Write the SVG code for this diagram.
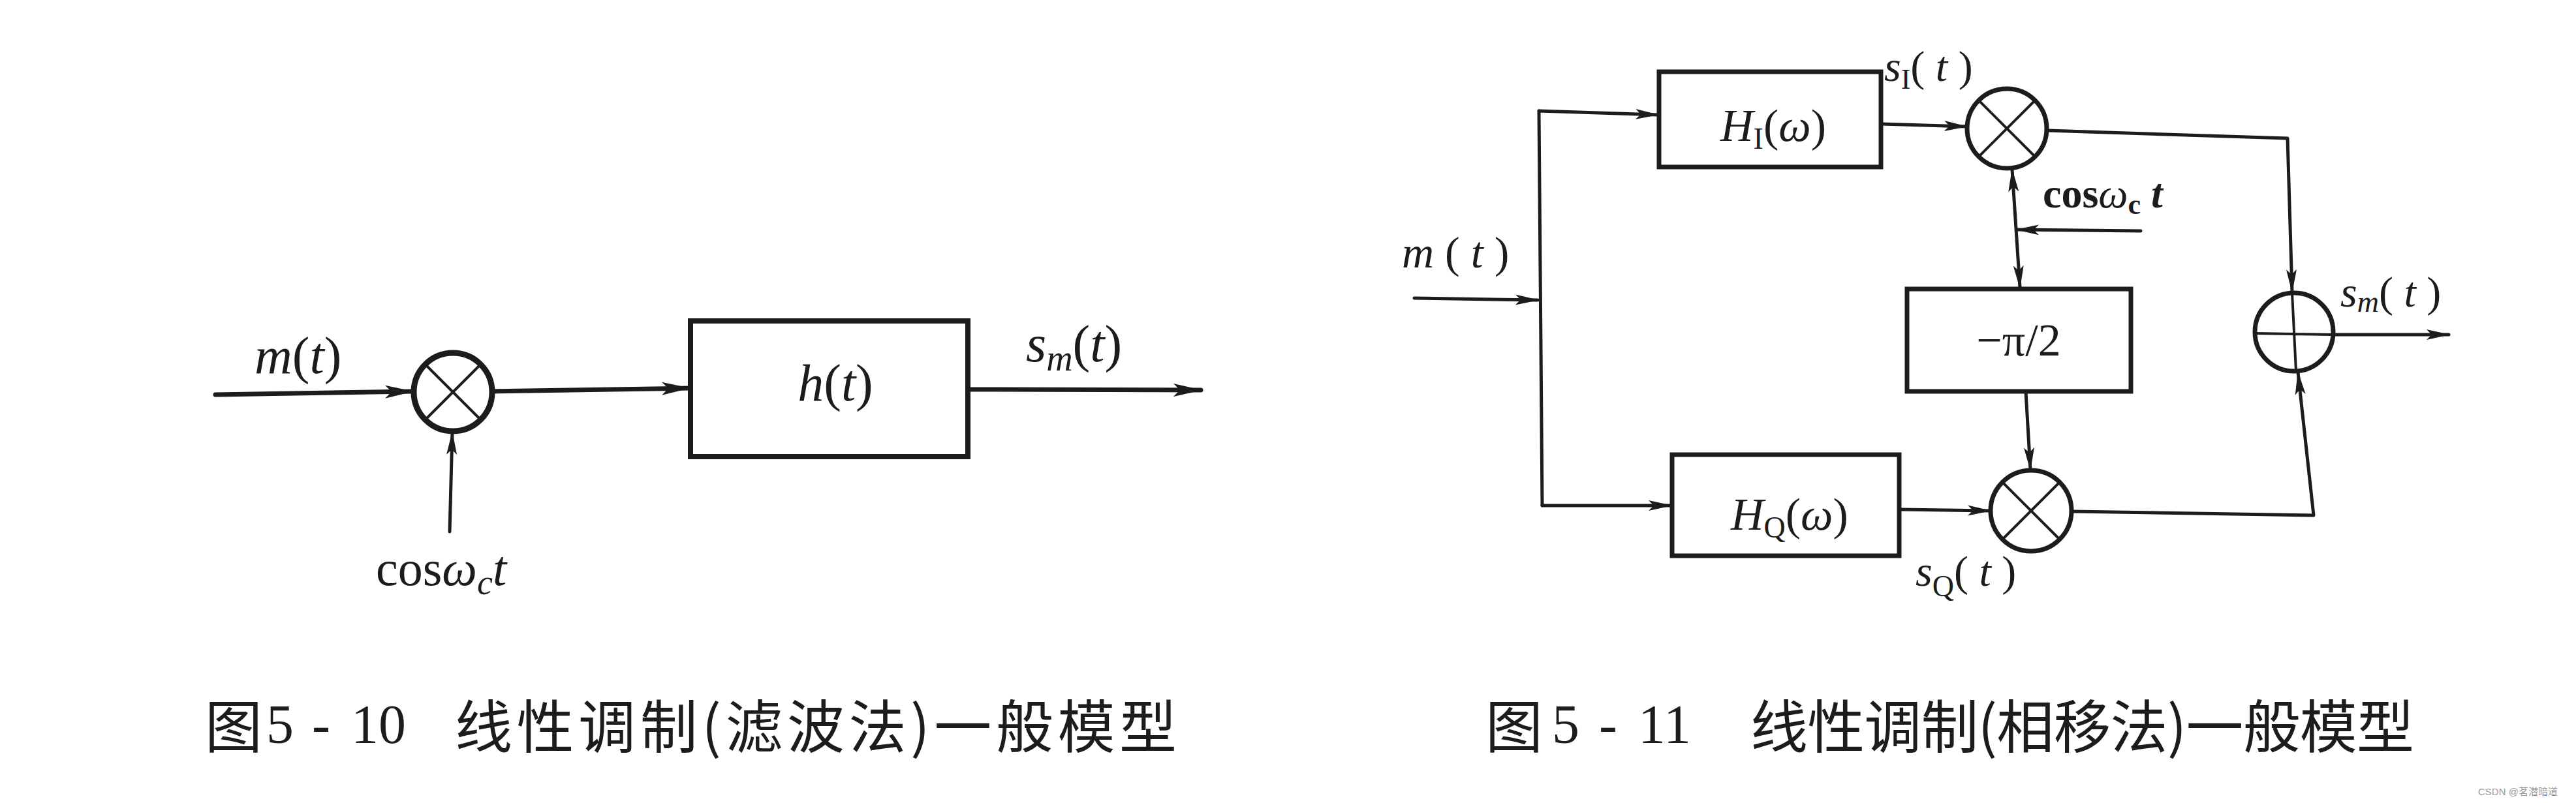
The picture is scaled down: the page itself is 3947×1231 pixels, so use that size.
<svg xmlns="http://www.w3.org/2000/svg" width="3947" height="1231" viewBox="0 0 3947 1231">
<defs>
<style>
.ln{fill:none;stroke:#1c1c1c;stroke-linecap:round;stroke-linejoin:round}
.thick{stroke-width:7}
.thin{stroke-width:5}
.box{fill:none;stroke:#1c1c1c;stroke-width:8}
.box2{fill:none;stroke:#1c1c1c;stroke-width:7}
.txt{font-family:"Liberation Serif","DejaVu Serif",serif;fill:#1c1c1c}
.it{font-style:italic}
.cap{font-family:"Noto Sans CJK SC","Noto Sans CJK TC",sans-serif;fill:#1c1c1c;font-size:88px}
.num{font-family:"Liberation Serif",serif;fill:#1c1c1c;font-size:84px}
</style>
<marker id="ah" markerUnits="userSpaceOnUse" markerWidth="44" markerHeight="22" refX="42" refY="11" orient="auto-start-reverse" viewBox="0 0 44 22">
<path d="M0,1 L44,11 L0,21 L10,11 z" fill="#1c1c1c"/>
</marker>
<marker id="as" markerUnits="userSpaceOnUse" markerWidth="36" markerHeight="18" refX="34" refY="9" orient="auto-start-reverse" viewBox="0 0 36 18">
<path d="M0,1 L36,9 L0,17 L8,9 z" fill="#1c1c1c"/>
</marker>
</defs>
<rect x="0" y="0" width="3947" height="1231" fill="#ffffff"/>

<!-- Connectors -->
<g id="connectors">
<!-- left diagram -->
<path class="ln thick" d="M330,605 L632,600" marker-end="url(#ah)"/>
<path class="ln thick" d="M754,600 L1056,595" marker-end="url(#ah)"/>
<path class="ln thick" d="M1483,597 L1840,598" marker-end="url(#ah)"/>
<path class="ln thin" d="M689,815 L693,663" marker-end="url(#as)"/>
<!-- right diagram -->
<path class="ln thin" d="M2167,457 L2356,460" marker-end="url(#as)"/>
<path class="ln thin" d="M2358,170 L2363,775"/>
<path class="ln thin" d="M2358,170 L2540,176" marker-end="url(#as)"/>
<path class="ln thin" d="M2363,775 L2560,775" marker-end="url(#as)"/>
<path class="ln thin" d="M2883,190 L3013,194" marker-end="url(#as)"/>
<path class="ln thin" d="M3137,200 L3505,212 L3512,447" marker-end="url(#as)"/>
<path class="ln thin" d="M3174,784 L3545,790 L3521,571" marker-end="url(#as)"/>
<path class="ln thin" d="M2912,781 L3049,783" marker-end="url(#as)"/>
<path class="ln thin" d="M3083,260 L3095,441" marker-start="url(#as)" marker-end="url(#as)"/>
<path class="ln thin" d="M3280,354 L3090,352" marker-end="url(#as)"/>
<path class="ln thin" d="M3104,601 L3111,720" marker-end="url(#as)"/>
<path class="ln thin" d="M3575,513 L3752,513" marker-end="url(#as)"/>
</g>

<!-- Left diagram nodes -->
<g id="mult1">
<circle cx="694" cy="601" r="60" fill="none" stroke="#1c1c1c" stroke-width="9"/>
<path class="ln" stroke-width="4" d="M652,559 L736,643 M736,559 L652,643"/>
</g>
<g id="filter-h">
<rect class="box" x="1058" y="492" width="425" height="208"/>
<text class="txt it" x="1280" y="614" font-size="80" text-anchor="middle">h<tspan font-style="normal">(</tspan>t<tspan font-style="normal">)</tspan></text>
</g>
<g id="labels-left">
<text class="txt" x="390" y="572" font-size="80"><tspan class="it">m</tspan>(<tspan class="it">t</tspan>)</text>
<text class="txt" x="1572" y="554" font-size="80"><tspan class="it">s</tspan><tspan class="it" font-size="56" dy="14">m</tspan><tspan dy="-14">(</tspan><tspan class="it">t</tspan>)</text>
<text class="txt" x="576" y="897" font-size="76">cos<tspan class="it">ω</tspan><tspan class="it" font-size="54" dy="14">c</tspan><tspan class="it" dy="-14">t</tspan></text>
</g>

<!-- Right diagram nodes -->
<g id="filter-HI">
<rect class="box2" x="2542" y="110" width="340" height="146"/>
<text class="txt" x="2636" y="216" font-size="70"><tspan class="it">H</tspan><tspan font-size="46" dy="12">I</tspan><tspan dy="-12">(</tspan><tspan class="it">ω</tspan>)</text>
</g>
<g id="filter-HQ">
<rect class="box2" x="2562" y="697" width="348" height="155"/>
<text class="txt" x="2652" y="812" font-size="70"><tspan class="it">H</tspan><tspan font-size="46" dy="12">Q</tspan><tspan dy="-12">(</tspan><tspan class="it">ω</tspan>)</text>
</g>
<g id="phase-shift">
<rect class="box2" x="2922" y="443" width="343" height="157"/>
<text class="txt" x="3093" y="545" font-size="70" text-anchor="middle">−π/2</text>
</g>
<g id="mult-top">
<circle cx="3075" cy="197" r="61" fill="none" stroke="#1c1c1c" stroke-width="7"/>
<path class="ln" stroke-width="4" d="M3032,154 L3118,240 M3118,154 L3032,240"/>
</g>
<g id="mult-bottom">
<circle cx="3112" cy="783" r="62" fill="none" stroke="#1c1c1c" stroke-width="7"/>
<path class="ln" stroke-width="4" d="M3068,739 L3156,827 M3156,739 L3068,827"/>
</g>
<g id="adder">
<circle cx="3515" cy="509" r="60" fill="none" stroke="#1c1c1c" stroke-width="7"/>
<path class="ln" stroke-width="4" d="M3512,449 L3518,569 M3455,511 L3575,513"/>
</g>
<g id="labels-right">
<text class="txt" x="2148" y="410" font-size="68"><tspan class="it">m</tspan> ( <tspan class="it">t</tspan> )</text>
<text class="txt" x="2887" y="124" font-size="66"><tspan class="it">s</tspan><tspan font-size="44" dy="12">I</tspan><tspan dy="-12">(</tspan><tspan class="it"> t </tspan>)</text>
<text class="txt" x="3130" y="318" font-size="64" font-weight="bold">cos<tspan class="it" font-weight="normal">ω</tspan><tspan font-size="44" dy="10">c</tspan><tspan class="it" dy="-10"> t</tspan></text>
<text class="txt" x="3586" y="470" font-size="66"><tspan class="it">s</tspan><tspan class="it" font-size="46" dy="8">m</tspan><tspan dy="-8">(</tspan><tspan class="it"> t </tspan>)</text>
<text class="txt" x="2935" y="898" font-size="66"><tspan class="it">s</tspan><tspan font-size="46" dy="16">Q</tspan><tspan dy="-16">(</tspan><tspan class="it"> t </tspan>)</text>
</g>

<!-- Captions -->
<g id="caption-510">
<text class="cap" x="314" y="1146">图</text>
<text class="num" x="408" y="1139">5</text>
<text class="num" x="478" y="1139">-</text>
<text class="num" x="538" y="1139">10</text>
<text class="cap" x="697" y="1146" textLength="1106" lengthAdjust="spacing">线性调制(滤波法)一般模型</text>
</g>
<g id="caption-511">
<text class="cap" x="2276" y="1146">图</text>
<text class="num" x="2378" y="1139">5</text>
<text class="num" x="2450" y="1139">-</text>
<text class="num" x="2510" y="1139">11</text>
<text class="cap" x="2682" y="1146" textLength="1017" lengthAdjust="spacing">线性调制(相移法)一般模型</text>
</g>
<text x="3797" y="1219" font-family="'Liberation Sans','Noto Sans CJK SC',sans-serif" font-size="15" fill="#9a9a9a">CSDN @茗潜暗道</text>
</svg>
